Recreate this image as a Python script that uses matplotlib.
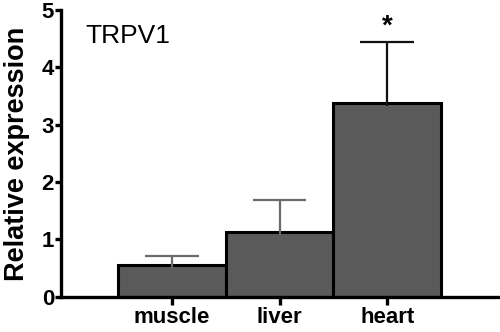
import matplotlib
matplotlib.use("Agg")
import matplotlib.pyplot as plt

plt.rcParams['font.family'] = ['Liberation Sans', 'DejaVu Sans']

tissues = ['muscle', 'liver', 'heart']
expression = [0.55, 1.13, 3.37]
err_up = [0.16, 0.55, 1.07]
err_colors = ['#6a6a6a', '#6a6a6a', '#111111']
ylim_top = 5

fig = plt.figure(figsize=(5, 3.32), dpi=100)
ax = fig.add_axes([0.122, 0.106, 0.874, 0.864])

x = list(range(len(tissues)))
ax.bar(x, expression, width=1.0, color='#5a5a5a', edgecolor='black',
       linewidth=2.2, zorder=2)
# upper error bars only (stem + cap)
tops = [m + e for m, e in zip(expression, err_up)]
for i in x:
    ax.vlines(i, expression[i] - 0.05, tops[i], color=err_colors[i],
              linewidth=1.6, zorder=3)
    ax.hlines(tops[i], i - 0.25, i + 0.25, color=err_colors[i],
              linewidth=1.6, zorder=3)

# significance mark over heart
ax.text(2, tops[2] + 0.05, '*', ha='center', va='bottom',
        fontsize=20, fontweight='bold')
ax.text(0.055, 0.95, 'TRPV1', transform=ax.transAxes, fontsize=19,
        ha='left', va='top')

ax.set_xlim(-1.03, 3.03)
ax.set_ylim(0, ylim_top)
ax.set_yticks(range(0, 6))
ax.set_xticks(x)
ax.set_xticklabels(tissues)
ax.set_ylabel('Relative expression', fontsize=19.5, fontweight='bold')
ax.yaxis.set_label_coords(-0.072, 0.5)

for s in ['top', 'right']:
    ax.spines[s].set_visible(False)
for s in ['left', 'bottom']:
    ax.spines[s].set_linewidth(2.4)
ax.tick_params(axis='y', length=4, width=2.4, pad=1, labelsize=16)
ax.tick_params(axis='x', length=6, width=2.4, pad=1, labelsize=16)
for lab in ax.get_xticklabels() + ax.get_yticklabels():
    lab.set_fontweight('bold')

fig.savefig('out.png', dpi=100)
